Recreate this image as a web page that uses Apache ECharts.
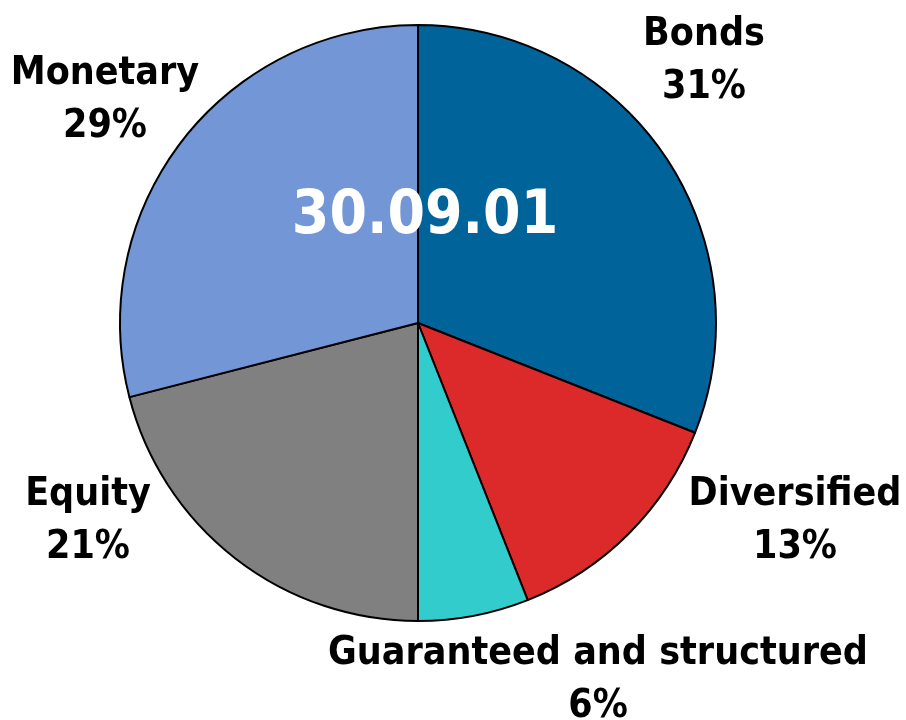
<!DOCTYPE html>
<html>
<head>
<meta charset="utf-8">
<script src="https://cdn.jsdelivr.net/npm/echarts@6/dist/echarts.min.js"></script>
<style>
  html, body { margin: 0; padding: 0; background: #fff; }
  #chart { width: 906px; height: 720px; }
</style>
</head>
<body>
<div id="chart"></div>
<script>
// Fund allocation by category at 30.09.01
const categories = ['Bonds', 'Diversified', 'Guaranteed and structured', 'Equity', 'Monetary'];
const shares = [31, 13, 6, 21, 29];
const colors = ['#00649A', '#DC2A2A', '#33CCCC', '#808080', '#7396D6'];
const dateLabel = '30.09.01';

// Where each category label sits (centre of the two-line block)
const labelSpots = [
  [704, 61],
  [795, 521],
  [598, 680],
  [88, 521],
  [105, 100]
];

const chart = echarts.init(document.getElementById('chart'));
chart.setOption({
  animation: false,
  series: [{
    type: 'pie',
    center: [418, 323],
    radius: 298,
    startAngle: 90,
    clockwise: true,
    data: categories.map((name, i) => ({
      name,
      value: shares[i],
      itemStyle: { color: colors[i] }
    })),
    itemStyle: { borderColor: '#000', borderWidth: 2 },
    emphasis: { disabled: true },
    label: {
      show: true,
      formatter: p => p.name + '\n' + p.value + '%',
      fontFamily: 'DejaVu Sans Condensed',
      fontWeight: 'bold',
      fontSize: 39,
      lineHeight: 53,
      color: '#000',
      align: 'center',
      overflow: 'none',
      width: 700
    },
    labelLine: { show: false },
    labelLayout: p => ({
      x: labelSpots[p.dataIndex][0],
      y: labelSpots[p.dataIndex][1],
      align: 'center',
      verticalAlign: 'middle'
    })
  }],
  graphic: [{
    type: 'text',
    x: 425,
    y: 217,
    style: {
      text: dateLabel,
      fill: '#fff',
      fontFamily: 'DejaVu Sans Condensed',
      fontWeight: 'bold',
      fontSize: 60,
      align: 'center',
      verticalAlign: 'middle'
    },
    z: 100
  }]
});
</script>
</body>
</html>
